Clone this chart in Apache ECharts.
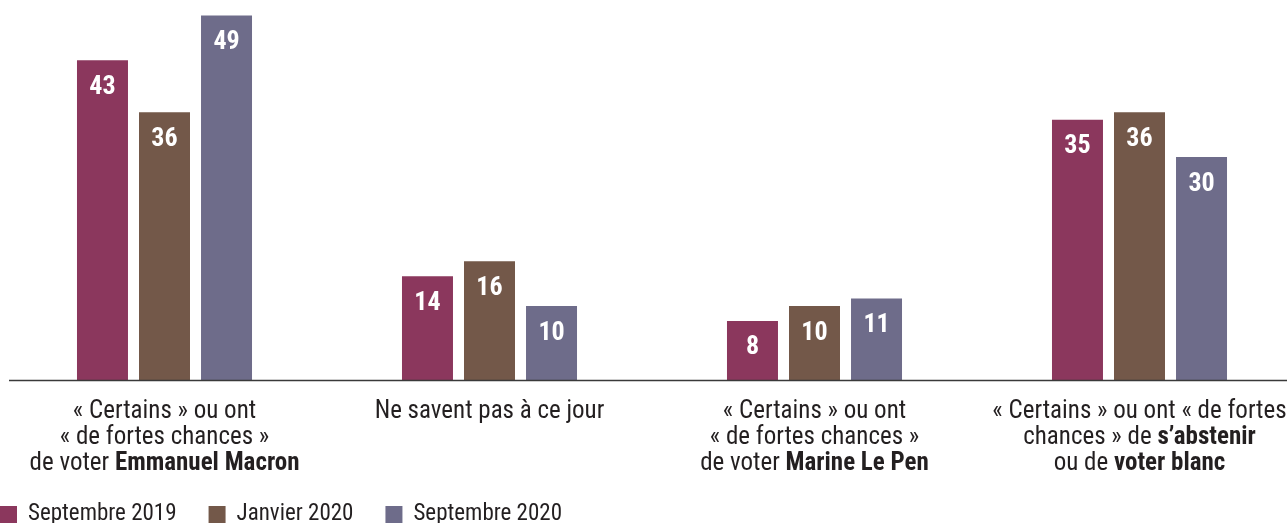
<!DOCTYPE html>
<html>
<head>
<meta charset="utf-8">
<script src="https://cdn.jsdelivr.net/npm/echarts@6/dist/echarts.min.js"></script>
<style>
  html, body { margin: 0; padding: 0; background: #fff; }
  #chart { width: 1287px; height: 523px; }
</style>
</head>
<body>
<div id="chart"></div>
<script>
// Category labels (bold fragments marked with {b|...})
const categories = [
  '« Certains » ou ont\n« de fortes chances »\nde voter {b|Emmanuel Macron}',
  'Ne savent pas à ce jour',
  '« Certains » ou ont\n« de fortes chances »\nde voter {b|Marine Le Pen}',
  '« Certains » ou ont « de fortes\nchances » de {b|s’abstenir}\nou de {b|voter blanc}'
];
const seriesNames = ['Septembre 2019', 'Janvier 2020', 'Septembre 2020'];
const sept2019 = [43, 14, 8, 35];
const janv2020 = [36, 16, 10, 36];
const sept2020 = [49, 10, 11, 30];
const colors = ['#8b375d', '#735849', '#6e6c8a'];

const FONT = "'Liberation Sans Narrow', 'Roboto Condensed', 'Liberation Sans', sans-serif";
const TEXT = '#231f20';

const chart = echarts.init(document.getElementById('chart'));

function barSeries(name, data, color) {
  return {
    name: name,
    type: 'bar',
    data: data,
    barWidth: 51,
    barGap: '21.6%',
    itemStyle: { color: color },
    label: {
      show: true,
      position: 'insideTop',
      distance: 14,
      color: '#fff',
      fontFamily: FONT,
      fontWeight: 'bold',
      fontSize: 26
    }
  };
}

chart.setOption({
  animation: false,
  color: colors,
  textStyle: { fontFamily: FONT },
  grid: { left: 2, width: 1300, top: 8, bottom: 142.5, containLabel: false, outerBoundsMode: 'none' },
  legend: {
    left: 0,
    top: 503,
    padding: 0,
    icon: 'rect',
    itemWidth: 17,
    itemHeight: 17,
    itemGap: 32,
    textStyle: { fontFamily: FONT, fontSize: 23, color: TEXT, padding: [0, 0, 0, 6] },
    data: seriesNames
  },
  xAxis: {
    type: 'category',
    data: categories,
    axisLine: { show: false },
    axisTick: { show: false },
    axisLabel: {
      interval: 0,
      margin: 18,
      color: TEXT,
      fontFamily: FONT,
      fontSize: 25,
      lineHeight: 26,
      align: 'center',
      hideOverlap: false,
      rich: {
        b: { fontFamily: FONT, fontSize: 25, fontWeight: 'bold', color: TEXT, lineHeight: 26 }
      }
    }
  },
  yAxis: {
    type: 'value',
    min: 0,
    max: 50,
    show: false,
    splitLine: { show: false }
  },
  graphic: [{
    type: 'line',
    shape: { x1: 9, y1: 380.5, x2: 1287, y2: 380.5 },
    style: { stroke: '#3a3a3a', lineWidth: 1.5 },
    z: 10
  }],
  series: [
    barSeries(seriesNames[0], sept2019, colors[0]),
    barSeries(seriesNames[1], janv2020, colors[1]),
    barSeries(seriesNames[2], sept2020, colors[2])
  ]
});
</script>
</body>
</html>
